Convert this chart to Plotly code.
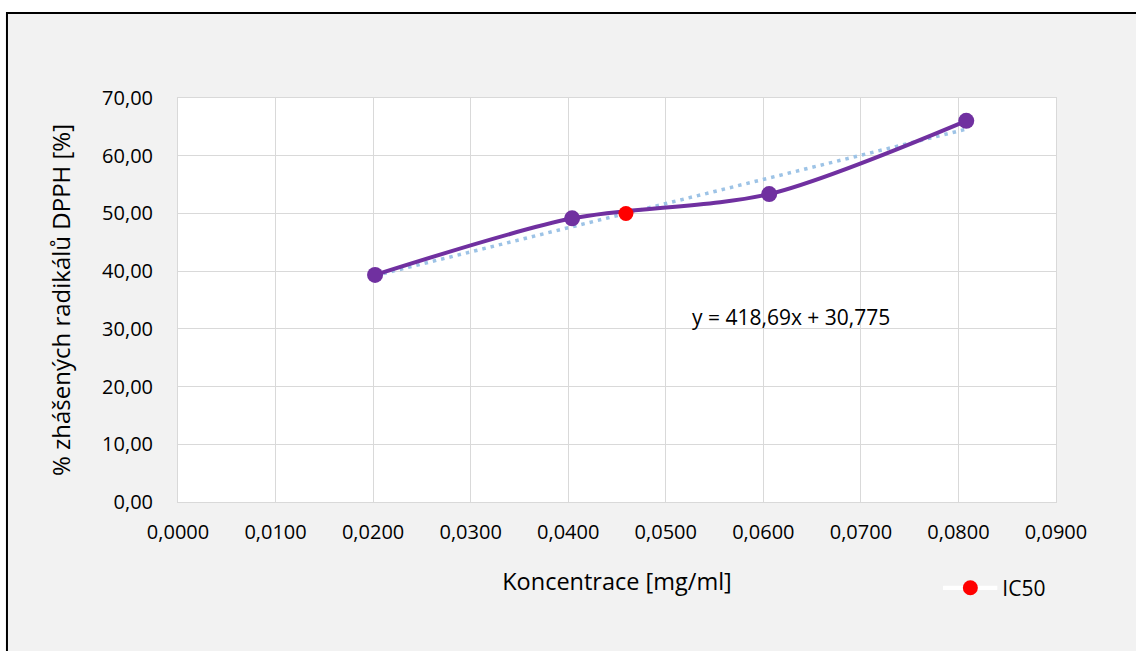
import plotly.graph_objects as go

# Measured DPPH scavenging data
koncentrace = [0.0202, 0.0404, 0.0606, 0.0808]
zhaseni = [39.35, 49.15, 53.35, 66.05]

# Linear regression y = a*x + b
slope = 418.69
intercept = 30.775

# IC50 point from the regression
ic50_y = 50.0
ic50_x = (ic50_y - intercept) / slope

trend_x = [koncentrace[0], koncentrace[-1]]
trend_y = [slope * x + intercept for x in trend_x]

x_ticks = [i / 100 for i in range(10)]
y_ticks = [i * 10 for i in range(8)]

FONT = "Open Sans"
PURPLE = "#7030A0"

fig = go.Figure()

fig.add_trace(go.Scatter(
    x=trend_x, y=trend_y, mode="lines",
    line=dict(color="#9DC3E6", width=3.5, dash="3.5px,5px"),
    showlegend=False, hoverinfo="skip",
))

fig.add_trace(go.Scatter(
    x=koncentrace, y=zhaseni, mode="lines+markers",
    line=dict(color=PURPLE, width=4, shape="spline", smoothing=0.8),
    marker=dict(color=PURPLE, size=16),
    showlegend=False,
))

fig.add_trace(go.Scatter(
    x=[ic50_x], y=[ic50_y], mode="lines+markers", name="IC50",
    line=dict(color="#FFFFFF", width=4),
    marker=dict(color="#FF0000", size=15),
))

fig.add_annotation(
    x=0.0628, y=32.0, xref="x", yref="y",
    text="y = 418,69x + 30,775", showarrow=False,
    font=dict(family=FONT, size=21, color="#000000"),
)

# Chart area frame and white plot area
fig.add_shape(
    type="rect", xref="paper", yref="paper",
    x0=-0.1948, x1=1.1, y0=-0.39, y1=1.2104,
    fillcolor="#F2F2F2", line=dict(color="#000000", width=2),
    layer="below",
)
fig.add_shape(
    type="rect", xref="paper", yref="paper",
    x0=0, x1=1, y0=0, y1=1,
    fillcolor="#FFFFFF", line=dict(width=0),
    layer="below",
)
# Full-length white series line of the legend entry
fig.add_shape(
    type="line", xref="paper", yref="paper",
    x0=0.8713, x1=0.9328, y0=-0.213, y1=-0.213,
    line=dict(color="#FFFFFF", width=4),
    layer="below",
)

axis_common = dict(
    showgrid=True, gridcolor="#D9D9D9", gridwidth=1,
    showline=True, linecolor="#D9D9D9", linewidth=1, mirror=True,
    zeroline=False, ticks="",
    tickfont=dict(family=FONT, size=20, color="#000000"),
)

fig.update_xaxes(
    range=[0, 0.09], tickvals=x_ticks, tickformat=".4f",
    title=dict(text="Koncentrace [mg/ml]", font=dict(family=FONT, size=23.5, color="#000000"), standoff=29),
    ticklabelstandoff=12,
    **axis_common,
)
fig.update_yaxes(
    range=[0, 70], tickvals=y_ticks, tickformat=".2f",
    title=dict(text="% zhášených radikálů DPPH [%]", font=dict(family=FONT, size=24, color="#000000"), standoff=24),
    ticklabelstandoff=20,
    **axis_common,
)

fig.update_layout(
    width=1136, height=651,
    margin=dict(l=178, r=80, t=98, b=149, pad=0),
    paper_bgcolor="#FFFFFF", plot_bgcolor="#FFFFFF",
    separators=", ",
    font=dict(family=FONT, color="#000000"),
    legend=dict(
        x=0.866, y=-0.213, xanchor="left", yanchor="middle", itemwidth=54,
        bgcolor="rgba(0,0,0,0)", font=dict(family=FONT, size=21, color="#000000"),
    ),
)

fig.write_html("out.html")
